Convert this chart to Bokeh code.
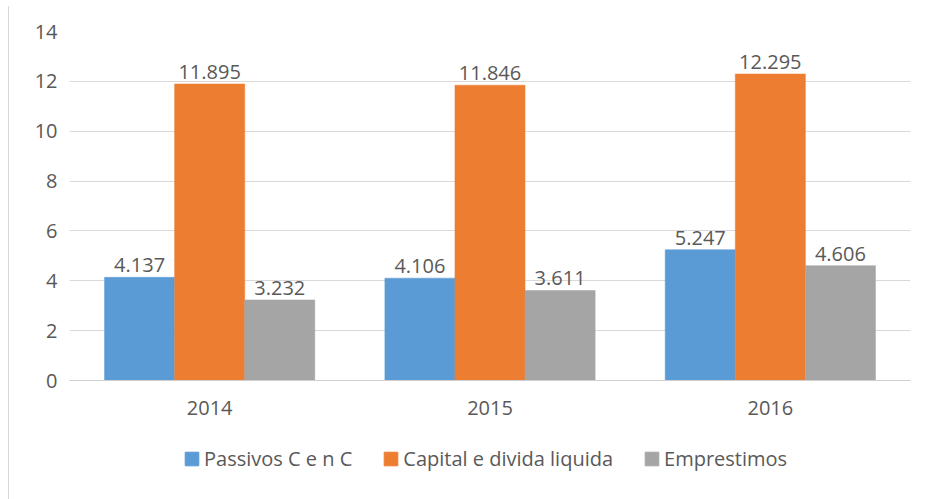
from bokeh.plotting import figure
from bokeh.models import (ColumnDataSource, FactorRange, Range1d, FixedTicker, LabelSet,
                          Legend, LegendItem, Div)
from bokeh.layouts import row, column
from bokeh.transform import dodge
from bokeh.core.properties import value
from bokeh.embed import file_html
from bokeh.resources import INLINE

years = ["2014", "2015", "2016"]
series = ["Passivos C e n C", "Capital e divida liquida", "Emprestimos"]
passivos = [4.137, 4.106, 5.247]
capital = [11.895, 11.846, 12.295]
emprestimos = [3.232, 3.611, 4.606]
colors = ["#5b9bd5", "#ed7d31", "#a5a5a5"]
y_ticks = [0, 2, 4, 6, 8, 10, 12, 14]

FONT = "Open Sans"
TXT = "#595959"
FS = "20px"
W = 916

p = figure(width=W, height=440, x_range=FactorRange(*years, range_padding=0),
           y_range=Range1d(0, 14), output_backend="svg", toolbar_location=None,
           min_border_left=60, min_border_right=15, min_border_top=31, min_border_bottom=60)
p.outline_line_color = None
p.background_fill_color = "white"
p.border_fill_color = "white"

vals = [passivos, capital, emprestimos]
offsets = [-0.25, 0.0, 0.25]
for v, c, off in zip(vals, colors, offsets):
    src = ColumnDataSource(dict(x=years, y=v, lbl=["%.3f" % a for a in v]))
    p.vbar(x=dodge("x", off, range=p.x_range), top="y", width=0.25, source=src,
           fill_color=c, line_color=c, line_width=0.5)
    p.add_layout(LabelSet(x=dodge("x", off, range=p.x_range), y="y", text="lbl", source=src,
                          text_align="center", text_baseline="bottom", y_offset=5,
                          text_font=value(FONT), text_font_size=FS, text_color=TXT))

p.yaxis.ticker = FixedTicker(ticks=y_ticks)
p.yaxis.axis_line_color = None
p.yaxis.major_tick_line_color = None
p.yaxis.minor_tick_line_color = None
p.yaxis.major_label_text_font = FONT
p.yaxis.major_label_text_font_size = FS
p.yaxis.major_label_text_color = TXT
p.yaxis.major_label_text_align = "left"
p.yaxis.major_label_standoff = 6

p.xaxis.axis_line_color = "#d0d0d0"
p.xaxis.major_tick_line_color = None
p.xaxis.minor_tick_line_color = None
p.xaxis.major_label_text_font = FONT
p.xaxis.major_label_text_font_size = FS
p.xaxis.major_label_text_color = TXT
p.xaxis.major_label_standoff = 14

p.xgrid.grid_line_color = None
p.ygrid.grid_line_color = "#d9d9d9"
p.ygrid.grid_line_width = 1

# legend strip below the chart
lf = figure(width=W, height=59, x_range=Range1d(0, 1), y_range=Range1d(0, 1),
            output_backend="svg", toolbar_location=None,
            min_border_left=0, min_border_right=0, min_border_top=0, min_border_bottom=0)
lf.axis.visible = False
lf.grid.visible = False
lf.outline_line_color = None
items = []
for name, c in zip(series, colors):
    r = lf.rect(x=[-10], y=[-10], width=0.1, height=0.1, fill_color=c, line_color=c)
    items.append(LegendItem(label=name, renderers=[r]))
legend = Legend(items=items, orientation="horizontal", location=(114, 27),
                label_text_font=FONT, label_text_font_size=FS, label_text_color=TXT,
                glyph_width=17, glyph_height=17, label_height=20, label_standoff=4,
                spacing=30, padding=0, margin=0, border_line_color=None,
                background_fill_alpha=0)
lf.add_layout(legend, "center")

edge = Div(text="", width=9, height=493, margin=(6, 0, 0, 0),
           styles={"border-right": "1px solid #d9d9d9", "box-sizing": "border-box"})

layout = row(edge, column(p, lf, spacing=0), spacing=0)
open("out.html", "w").write(file_html(layout, INLINE))
